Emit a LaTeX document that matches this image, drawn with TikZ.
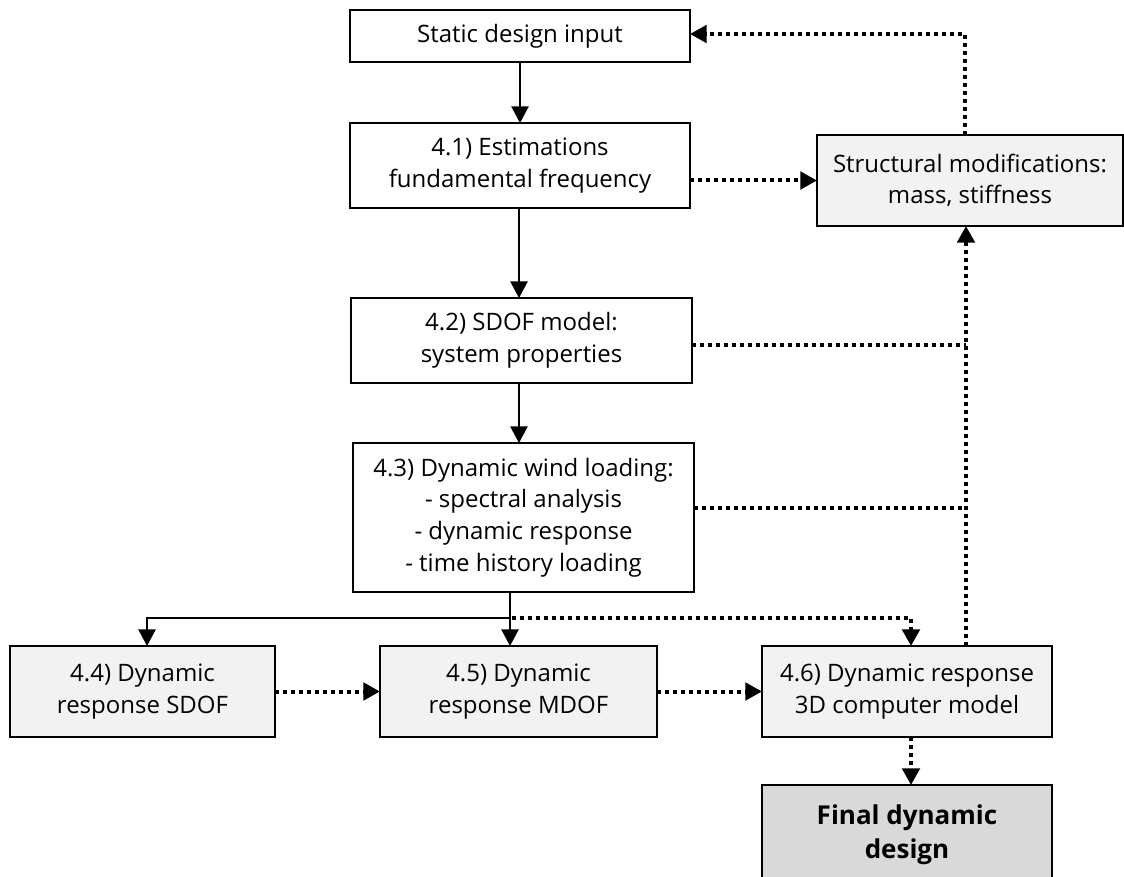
\documentclass[tikz,border=0pt]{standalone}
\usepackage{fontspec}
\setmainfont{Open Sans}
\usetikzlibrary{arrows.meta,calc}
\begin{document}
\begin{tikzpicture}[x=0.75pt,y=-0.75pt,
  box/.style={draw=black,line width=1.5pt,inner sep=0pt,outer sep=0pt,align=center,
    font=\fontsize{18}{23.8}\selectfont},
  wbox/.style={box,fill=white},
  gbox/.style={box,fill=black!5},
  fbox/.style={box,fill=black!15,font=\fontsize{19.5}{25.5}\selectfont\bfseries},
  solidarrow/.style={line width=1.2pt,-{Triangle[length=12.5pt,width=13pt]}},
  solidline/.style={line width=1.2pt},
  dotline/.style={line width=3pt,dash pattern=on 3pt off 3pt},
  dotarrow/.style={dotline,-{Triangle[length=12.5pt,width=13pt]}}]
\useasboundingbox (0,0) rectangle (1124,877);
\clip (0,0) rectangle (1124,877);

\node[wbox,minimum width=255pt,minimum height=39pt] (static) at (520,36) {Static design input};
\node[wbox,minimum width=255pt,minimum height=63.75pt] (f41) at (520,165.5) {4.1) Estimations\\fundamental frequency};
\node[gbox,minimum width=229.5pt,minimum height=68.25pt] (struct) at (970,180.5) {Structural modifications:\\mass, stiffness};
\node[wbox,minimum width=255.75pt,minimum height=63.75pt] (f42) at (521.5,340.5) {4.2) SDOF model:\\system properties};
\node[wbox,minimum width=255.75pt,minimum height=111.75pt] (f43) at (523.5,517.5) {4.3) Dynamic wind loading:\\- spectral analysis\\- dynamic response\\- time history loading};
\node[gbox,minimum width=198.75pt,minimum height=68.25pt] (f44) at (142.5,691.5) {4.4) Dynamic\\response SDOF};
\node[gbox,minimum width=207.75pt,minimum height=68.25pt] (f45) at (518.5,691.5) {4.5) Dynamic\\response MDOF};
\node[gbox,minimum width=217.5pt,minimum height=68.25pt] (f46) at (907,691.5) {4.6) Dynamic response\\3D computer model};
\node[fbox,minimum width=217.5pt,minimum height=75pt] (final) at (907,835) {Final dynamic\\design};

% solid connectors
\draw[solidarrow] (static.south) -- (f41.north);
\coordinate (c1) at ([xshift=-0.75pt]f41.south);
\draw[solidarrow] (c1) -- (c1 |- f42.north);
\coordinate (c2) at ([xshift=-1.9pt]f42.south);
\draw[solidarrow] (c2) -- (c2 |- f43.north);
\coordinate (j) at (510,618);
\draw[solidline] (j |- f43.south) -- (j);
\draw[solidarrow] (j) -- (j |- f45.north);
\coordinate (a44) at ([xshift=3.4pt]f44.north);
\draw[solidarrow] (j) -| (a44);

% dotted connectors
\coordinate (a46) at ([xshift=3pt]f46.north);
\draw[dotarrow] ([xshift=1.5pt]j) -| (a46);
\draw[dotarrow] (f44.east) -- (f45.west);
\draw[dotarrow] (f45.east) -- (f46.west);
\coordinate (b46) at ([xshift=3pt]f46.south);
\draw[dotarrow] (b46) -- (b46 |- final.north);
\coordinate (s) at ([xshift=-3pt]struct.south);
\draw[dotarrow] (s |- f46.north) -- (s);
\draw[dotline] ([yshift=-3.4pt]f42.east) -- ([yshift=-3.4pt]f42.east -| s);
\draw[dotline] ([yshift=7pt]f43.east) -- ([yshift=7pt]f43.east -| s);
\draw[dotarrow] (f41.east |- struct.west) -- (struct.west);
\coordinate (t) at ([xshift=-3.75pt]struct.north);
\draw[dotarrow] (t) |- ([yshift=1.5pt]static.east);
\end{tikzpicture}
\end{document}
